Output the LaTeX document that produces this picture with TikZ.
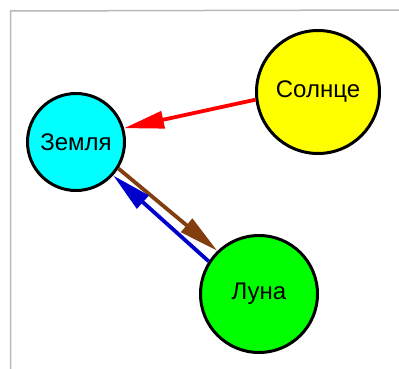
\documentclass[tikz,border=0pt]{standalone}
\usepackage{fontspec}
\setmainfont{Liberation Sans}
\usetikzlibrary{arrows.meta}
\definecolor{framegray}{RGB}{185,185,185}
\definecolor{sunyellow}{RGB}{255,255,0}
\definecolor{earthcyan}{RGB}{0,255,255}
\definecolor{moongreen}{RGB}{0,255,0}
\definecolor{arrred}{RGB}{255,0,0}
\definecolor{arrbrown}{RGB}{130,62,15}
\definecolor{arrblue}{RGB}{0,0,205}
\tikzset{
  body/.style={circle, draw=black, line width=3pt, inner sep=0pt,
    font=\fontsize{24}{28}\selectfont},
  force/.style={line width=3.8pt, -{Triangle[length=40pt,width=17pt]}},
}
\begin{document}
\begin{tikzpicture}[x=1pt,y=-1pt]
\useasboundingbox (0,0) rectangle (399,369);
\fill[white] (0,0) rectangle (399,369);
\draw[framegray, line width=1.5pt] (10.5,369) -- (10.5,11) -- (399,10);
\node[body, fill=earthcyan, minimum size=97pt] (zem) at (76,142) {Земля};
\node[body, fill=sunyellow, minimum size=123pt] (sun) at (318,92) {Солнце};
\node[body, fill=moongreen, minimum size=117pt] (moon) at (259,294) {Луна};
\draw[force, arrred] (sun.-173) -- (zem.16);
\draw[force, arrbrown] (zem.-32) -- (moon.134);
\draw[force, arrblue] (moon.147) -- (zem.-42);
\end{tikzpicture}
\end{document}
